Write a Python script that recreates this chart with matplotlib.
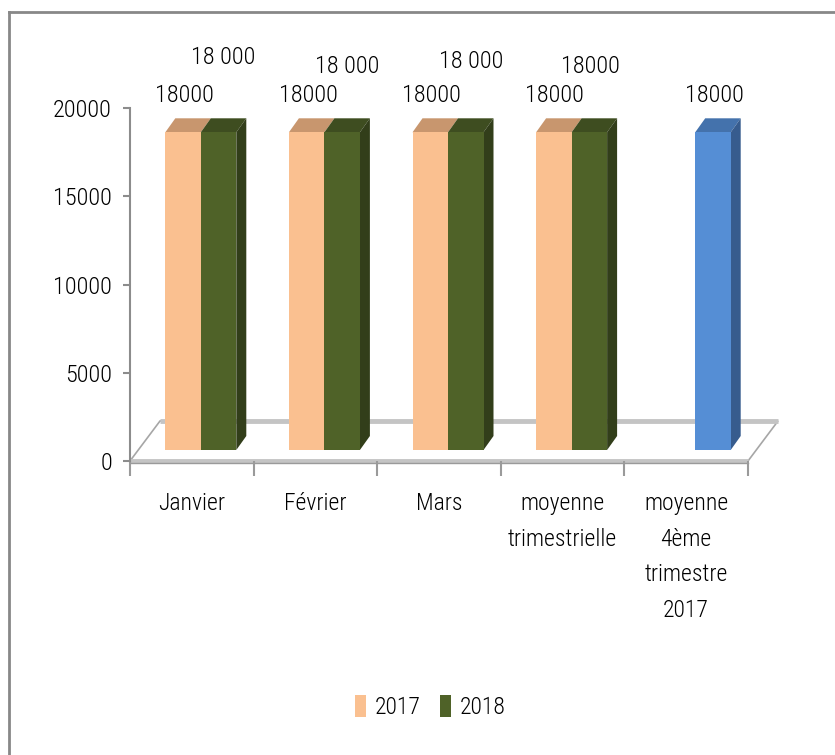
import numpy as np
import matplotlib
matplotlib.use("Agg")
import matplotlib.pyplot as plt
from matplotlib import font_manager as fm
from matplotlib.patches import Polygon, Patch
from matplotlib.lines import Line2D

# ---------------- data ----------------
categories = ["Janvier", "Février", "Mars", "moyenne\ntrimestrielle",
              "moyenne\n4ème\ntrimestre\n2017"]
series_names = ["2017", "2018"]
values_2017 = [18000, 18000, 18000, 18000, np.nan]
values_2018 = [18000, 18000, 18000, 18000, 18000]
labels_2017 = ["18000", "18000", "18000", "18000", ""]
labels_2018 = ["18 000", "18 000", "18 000", "18000", "18000"]
yticks = [0, 5000, 10000, 15000, 20000]

# ---------------- font ----------------
names = {f.name for f in fm.fontManager.ttflist}
font = "DejaVu Sans"
for cand in ["Liberation Sans Narrow", "Roboto Condensed", "DejaVu Sans Condensed",
             "Open Sans Condensed", "Noto Sans Condensed"]:
    if cand in names:
        font = cand
        break
plt.rcParams["font.family"] = [font, "DejaVu Sans"]
plt.rcParams["font.weight"] = "light"

W, H = 835, 755
fig = plt.figure(figsize=(W / 100, H / 100), dpi=100)
fig.patch.set_facecolor("white")

# plot area in pixel coordinates
x0, x1, yb, yt = 130, 748, 461, 108
ax = fig.add_axes([x0 / W, 1 - yb / H, (x1 - x0) / W, (yb - yt) / H])
ncat = len(categories)
ax.set_xlim(0, ncat)
ax.set_ylim(0, 20000)
ax.set_facecolor("none")

px_x = (x1 - x0) / ncat          # pixels per category unit
vpp = 20000 / (yb - yt)          # value units per pixel

def dxu(p):
    return p / px_x

def dyu(p):
    return p * vpp

# floor (perspective plate)
fdx, fdy = dxu(30), dyu(40)
floor = Polygon([[0, 0], [ncat, 0], [ncat + fdx, fdy], [fdx, fdy]],
                closed=True, facecolor="white", edgecolor="#A6A6A6", lw=1.2,
                clip_on=False, zorder=1)
ax.add_patch(floor)
ax.plot([fdx, ncat + fdx], [fdy, fdy], color="#C4C4C4", lw=3.5,
        solid_capstyle="butt", clip_on=False, zorder=1.1)
ax.plot([0, ncat], [0, 0], color="#C4C4C4", lw=3.5, solid_capstyle="butt",
        clip_on=False, zorder=1.1)
ax.plot([0, ncat], [dyu(-1.5), dyu(-1.5)], color="#9A9A9A", lw=1.0,
        clip_on=False, zorder=1.2)

# bars
centers = np.arange(ncat) + 0.5
bw = dxu(35.5)
shift = dxu(9)
base = dyu(11)
ddx, ddy = dxu(10), dyu(14)

orange = "#FAC090"
green = "#4F6228"
blue = "#558ED5"
top_col = {orange: "#C8966E", green: "#3E4D20", blue: "#4472AC"}
side_col = {orange: "#D9A070", green: "#323E1A", blue: "#375C8E"}

c17 = [orange] * ncat
c18 = [green] * (ncat - 1) + [blue]
b17 = ax.bar(centers + shift - bw / 2, values_2017, width=bw, bottom=base,
             color=c17, zorder=3, clip_on=False)
b18 = ax.bar(centers + shift + bw / 2, values_2018, width=bw, bottom=base,
             color=c18, zorder=3, clip_on=False)

def faces(rect, col, show_side):
    x = rect.get_x(); w = rect.get_width(); h = rect.get_height(); y = rect.get_y()
    if not np.isfinite(h):
        return
    top = y + h
    ax.add_patch(Polygon([[x, top], [x + w, top], [x + w + ddx, top + ddy],
                          [x + ddx, top + ddy]], closed=True, facecolor=top_col[col],
                         edgecolor="none", zorder=2.9, clip_on=False))
    if show_side:
        # side face, its bottom cut diagonally like the original rendering
        ax.add_patch(Polygon([[x + w, y], [x + w, top], [x + w + ddx, top + ddy],
                              [x + w + ddx, y + ddy]], closed=True,
                             facecolor=side_col[col], edgecolor="none",
                             zorder=2.9, clip_on=False))

for r, col in zip(b17.patches, c17):
    faces(r, col, False)
for r, col in zip(b18.patches, c18):
    faces(r, col, True)

# data labels (manually placed in the original)
lbl_fs = 17.5
off17 = [(1, 37), (2, 37), (1, 37), (1, 37), (0, 37)]
off18 = [(5, 75), (5, 66), (5, 71), (1, 66), (1, 37)]
for r, t, (ox, oy) in zip(b17.patches, labels_2017, off17):
    if t and np.isfinite(r.get_height()):
        ax.annotate(t, (r.get_x() + r.get_width() / 2, r.get_y() + r.get_height()),
                    xytext=(ox, oy), textcoords="offset pixels", ha="center",
                    va="center", fontsize=lbl_fs, color="black",
                    annotation_clip=False)
for r, t, (ox, oy) in zip(b18.patches, labels_2018, off18):
    if t:
        ax.annotate(t, (r.get_x() + r.get_width() / 2, r.get_y() + r.get_height()),
                    xytext=(ox, oy), textcoords="offset pixels", ha="center",
                    va="center", fontsize=lbl_fs, color="black",
                    annotation_clip=False)

# axes styling
for s in ["top", "right", "bottom"]:
    ax.spines[s].set_visible(False)
ax.spines["left"].set_color("#8C8C8C")
ax.spines["left"].set_linewidth(1.5)
ax.set_yticks(yticks)
ax.set_yticklabels([str(v) for v in yticks])
ax.tick_params(axis="y", length=5, width=1.5, color="#8C8C8C", pad=8,
               labelsize=17.5)
ax.set_xticks(np.arange(ncat + 1))
ax.set_xticklabels([])
ax.tick_params(axis="x", which="major", length=11, width=1.5, color="#9A9A9A",
               direction="out")
ax.set_xticks(centers, minor=True)
ax.set_xticklabels(categories, minor=True, fontsize=17, linespacing=1.72)
ax.tick_params(axis="x", which="minor", length=0, pad=22)

# legend
handles = [Patch(facecolor=orange, edgecolor="none"),
           Patch(facecolor=green, edgecolor="none")]
fig.legend(handles, series_names, loc="center", bbox_to_anchor=(430 / W, 1 - 707 / H),
           ncol=2, frameon=False, fontsize=17, handlelength=0.5, handleheight=1.1,
           handletextpad=0.35, columnspacing=0.8, borderaxespad=0)

# outer border (top and left visible)
fig.add_artist(Line2D([9 / W, 9 / W], [1 - 12 / H, 0], color="#888888", lw=2,
                      transform=fig.transFigure))
fig.add_artist(Line2D([9 / W, 1], [1 - 12 / H, 1 - 12 / H], color="#888888", lw=2,
                      transform=fig.transFigure))

fig.savefig("out.png", dpi=100, facecolor="white")
